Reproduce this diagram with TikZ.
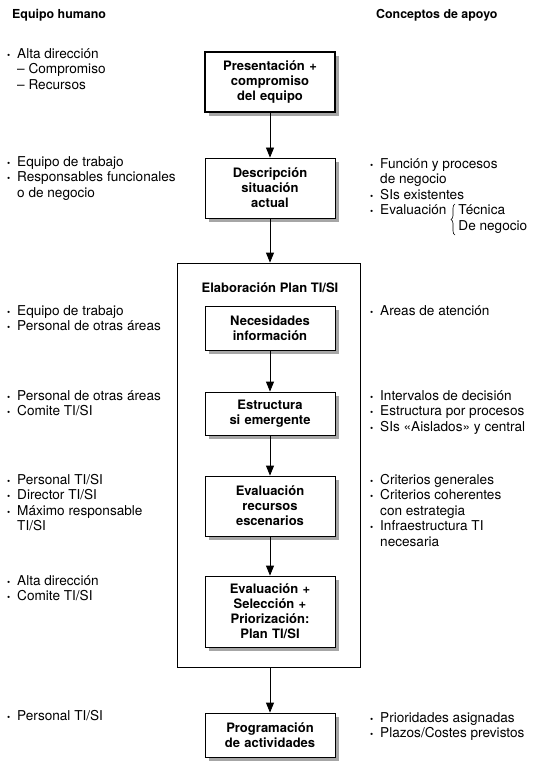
\documentclass[tikz,border=0pt]{standalone}
\usepackage{fontspec}
\setmainfont{TeX Gyre Heros}
\usepackage{tikz}
\usetikzlibrary{arrows.meta, shadows, positioning, decorations.pathreplacing}
\newcommand{\bul}{\makebox[10pt][l]{\small•}}
\newcommand{\sang}{\hspace*{10pt}}
\tikzstyle{paso} = [rectangle, draw=black, line width=0.8pt, fill=white, minimum width=130pt, text width=124pt, align=center, inner sep=3pt, font=\fontsize{13}{15}\selectfont\bfseries, drop shadow={shadow xshift=4pt, shadow yshift=-4pt, fill=black!35, opacity=1}]
\tikzstyle{marco} = [rectangle, draw=black, line width=0.8pt, minimum width=183pt, minimum height=404pt]
\tikzstyle{lista} = [anchor=north west, inner sep=0pt, align=left, font=\fontsize{13.6}{15.5}\selectfont]
\tikzstyle{cabecera} = [anchor=west, inner sep=0pt, font=\fontsize{12.4}{15}\selectfont\bfseries]
\tikzstyle{arrow} = [line width=0.8pt, -{Triangle[width=8pt,length=10pt]}]
\tikzstyle{llave} = [decorate, decoration={brace, amplitude=4pt}, line width=0.6pt]

\begin{document}
\begin{tikzpicture}[x=1pt, y=-1pt]
\useasboundingbox (0,0) rectangle (555,770);

% cabeceras
\node (hum) [cabecera] at (12,15) {Equipo humano};
\node (apo) [cabecera] at (376,15) {Conceptos de apoyo};

% pasos
\node (pres) [paso, line width=1.6pt, minimum height=60pt] at (270,82) {Presentación +\\ compromiso\\ del equipo};
\node (desc) [paso, minimum height=60pt, below of=pres, node distance=106pt] {Descripción\\ situación\\ actual};
\node (nec) [paso, minimum height=44pt, below of=desc, node distance=140pt] {Necesidades\\ información};
\node (estr) [paso, minimum height=43pt, below of=nec, node distance=85.5pt] {Estructura\\ si emergente};
\node (eval) [paso, minimum height=60pt, below of=estr, node distance=92.5pt] {Evaluación\\ recursos\\ escenarios};
\node (selec) [paso, minimum height=71pt, below of=eval, node distance=105.5pt] {Evaluación +\\ Selección +\\ Priorización:\\ Plan TI/SI};
\node (prog) [paso, minimum height=44pt, below of=selec, node distance=123.5pt] {Programación\\ de actividades};

% marco del plan
\node (plan) [marco] at (268.5,465) {};
\node (titulo) [above of=nec, node distance=40pt, font=\fontsize{13}{15}\selectfont\bfseries] {Elaboración Plan TI/SI};

% equipo humano
\node (h1) [lista] at (7,48) {\bul Alta dirección\\ \sang -- Compromiso\\ \sang -- Recursos};
\node (h2) [lista] at (7,156) {\bul Equipo de trabajo\\ \bul Responsables funcionales\\ \sang o de negocio};
\node (h3) [lista] at (7,305) {\bul Equipo de trabajo\\ \bul Personal de otras áreas};
\node (h4) [lista] at (7,390) {\bul Personal de otras áreas\\ \bul Comite TI/SI};
\node (h5) [lista] at (7,474) {\bul Personal TI/SI\\ \bul Director TI/SI\\ \bul Máximo responsable\\ \sang TI/SI};
\node (h6) [lista] at (7,575) {\bul Alta dirección\\ \bul Comite TI/SI};
\node (h7) [lista] at (7,710) {\bul Personal TI/SI};

% conceptos de apoyo
\node (a2) [lista] at (370,158) {\bul Función y procesos\\ \sang de negocio\\ \bul SIs existentes\\ \bul Evaluación\hspace*{12pt}\begin{tabular}[t]{@{}l@{}}Técnica\\ De negocio\end{tabular}};
\draw [llave] (455,235) -- (455,204);
\node (a3) [lista] at (370,305) {\bul Areas de atención};
\node (a4) [lista] at (370,390) {\bul Intervalos de decisión\\ \bul Estructura por procesos\\ \bul SIs «Aislados» y central};
\node (a5) [lista] at (370,474) {\bul Criterios generales\\ \bul Criterios coherentes\\ \sang con estrategia\\ \bul Infraestructura TI\\ \sang necesaria};
\node (a7) [lista] at (370,712) {\bul Prioridades asignadas\\ \bul Plazos/Costes previstos};


\draw [arrow] (pres) -- (desc);
\draw [arrow] (desc) -- (desc |- plan.north);
\draw [arrow] (nec) -- (estr);
\draw [arrow] (estr) -- (eval);
\draw [arrow] (eval) -- (selec);
\draw [arrow] (plan.south -| prog) -- (prog);
\end{tikzpicture}
\end{document}
